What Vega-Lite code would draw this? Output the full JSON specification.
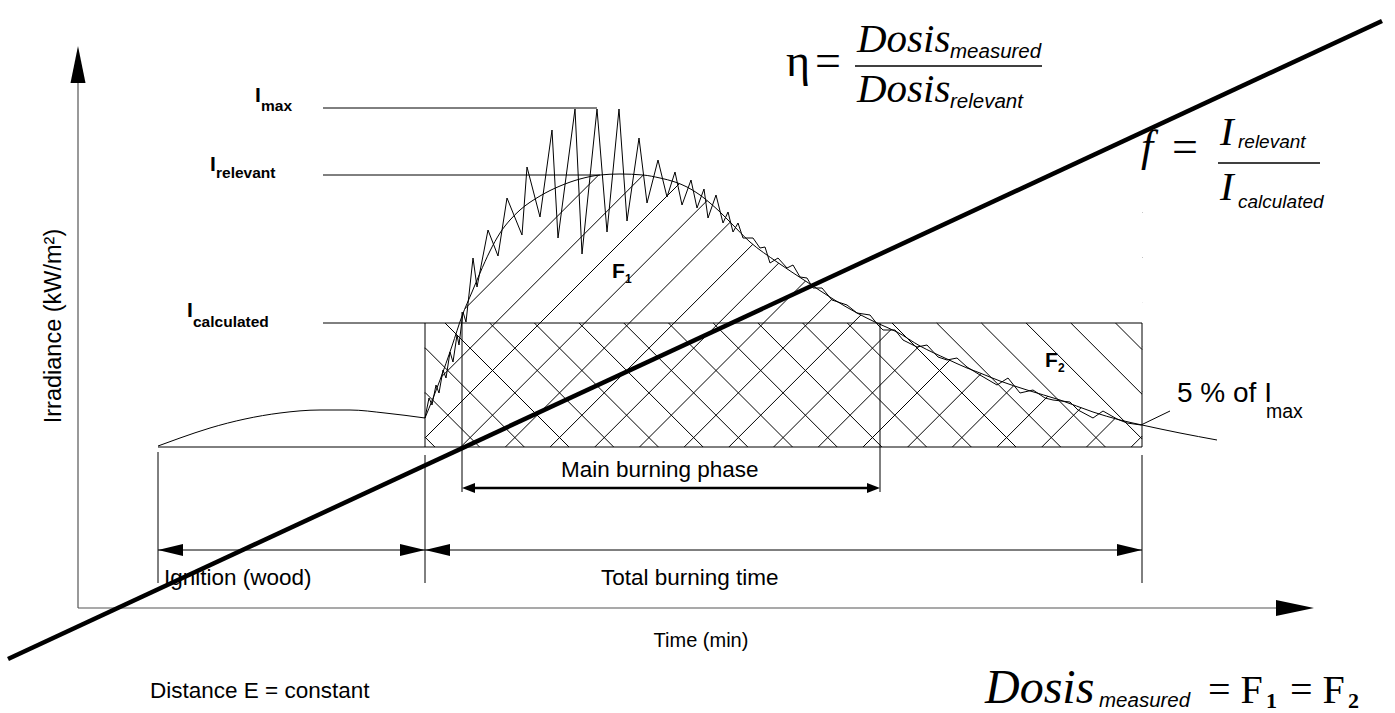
{
 "$schema": "https://vega.github.io/schema/vega-lite/v6.json",
 "width": 1395, "height": 713, "padding": 0, "autosize": {"type": "none"},
 "background": "white",
 "config": {"view": {"stroke": null}},
 "datasets": {
  "hatch_f1": [
   {"t":425,"irr":364.4,"t2":603.6,"irr2":543},
   {"t":425,"irr":319.7,"t2":648.3,"irr2":543},
   {"t":425,"irr":275,"t2":693,"irr2":543},
   {"t":460.7,"irr":266,"t2":737.7,"irr2":543},
   {"t":505.4,"irr":266,"t2":782.4,"irr2":543},
   {"t":550.1,"irr":266,"t2":827.1,"irr2":543},
   {"t":594.8,"irr":266,"t2":871.8,"irr2":543},
   {"t":639.5,"irr":266,"t2":916.5,"irr2":543},
   {"t":684.2,"irr":266,"t2":961.2,"irr2":543},
   {"t":728.9,"irr":266,"t2":1005.9,"irr2":543},
   {"t":773.6,"irr":266,"t2":1050.6,"irr2":543},
   {"t":818.3,"irr":266,"t2":1095.3,"irr2":543},
   {"t":863,"irr":266,"t2":1140,"irr2":543},
   {"t":907.7,"irr":266,"t2":1142,"irr2":500.3},
   {"t":952.4,"irr":266,"t2":1142,"irr2":455.6},
   {"t":997.1,"irr":266,"t2":1142,"irr2":410.9},
   {"t":1041.8,"irr":266,"t2":1142,"irr2":366.2},
   {"t":1086.5,"irr":266,"t2":1142,"irr2":321.5},
   {"t":1131.2,"irr":266,"t2":1142,"irr2":276.8}
  ],
  "hatch_f2": [
   {"t":425,"irr":275.9,"t2":434.9,"irr2":266},
   {"t":425,"irr":320.6,"t2":479.6,"irr2":266},
   {"t":425,"irr":365.3,"t2":524.3,"irr2":266},
   {"t":445,"irr":390,"t2":569,"irr2":266},
   {"t":489.7,"irr":390,"t2":613.7,"irr2":266},
   {"t":534.4,"irr":390,"t2":658.4,"irr2":266},
   {"t":579.1,"irr":390,"t2":703.1,"irr2":266},
   {"t":623.8,"irr":390,"t2":747.8,"irr2":266},
   {"t":668.5,"irr":390,"t2":792.5,"irr2":266},
   {"t":713.2,"irr":390,"t2":837.2,"irr2":266},
   {"t":757.9,"irr":390,"t2":881.9,"irr2":266},
   {"t":802.6,"irr":390,"t2":926.6,"irr2":266},
   {"t":847.3,"irr":390,"t2":971.3,"irr2":266},
   {"t":892,"irr":390,"t2":1016,"irr2":266},
   {"t":936.7,"irr":390,"t2":1060.7,"irr2":266},
   {"t":981.4,"irr":390,"t2":1105.4,"irr2":266},
   {"t":1026.1,"irr":390,"t2":1142,"irr2":274.1},
   {"t":1070.8,"irr":390,"t2":1142,"irr2":318.8},
   {"t":1115.5,"irr":390,"t2":1142,"irr2":363.5}
  ],
  "relevant_curve": [
   {"t":425,"irr":295},{"t":440,"irr":333},{"t":452,"irr":367},{"t":462,"irr":397},
   {"t":472,"irr":421},{"t":480,"irr":440},{"t":490,"irr":462},{"t":500,"irr":480},
   {"t":510,"irr":493},{"t":520,"irr":503},{"t":540,"irr":517},{"t":560,"irr":527},
   {"t":580,"irr":534},{"t":600,"irr":538},{"t":620,"irr":539},{"t":643,"irr":538},
   {"t":660,"irr":535},{"t":675,"irr":531},{"t":687,"irr":526},{"t":700,"irr":518},
   {"t":710,"irr":510},{"t":720,"irr":501},{"t":730,"irr":491},{"t":750,"irr":471},
   {"t":777,"irr":451},{"t":807,"irr":431},{"t":833,"irr":414},{"t":857,"irr":400},
   {"t":877,"irr":390},{"t":897,"irr":381},{"t":920,"irr":367},{"t":947,"irr":354},
   {"t":967,"irr":345},{"t":980,"irr":340},{"t":1000,"irr":332},{"t":1027,"irr":323},
   {"t":1060,"irr":313},{"t":1093,"irr":301},{"t":1120,"irr":293},{"t":1142,"irr":288},
   {"t":1180,"irr":280},{"t":1217,"irr":273}
  ],
  "measured_curve": [
   {"t":425,"irr":295},{"t":429,"irr":315},{"t":432,"irr":308},{"t":436,"irr":328},
   {"t":439,"irr":320},{"t":443,"irr":343},{"t":446,"irr":335},{"t":450,"irr":361},
   {"t":453,"irr":351},{"t":457,"irr":378},{"t":459,"irr":368},{"t":463,"irr":401},
   {"t":466,"irr":391},{"t":473,"irr":455},{"t":477,"irr":426},{"t":488,"irr":483},
   {"t":498,"irr":457},{"t":507,"irr":515},{"t":522,"irr":478},{"t":527,"irr":546},
   {"t":540,"irr":496},{"t":552,"irr":583},{"t":558,"irr":475},{"t":575,"irr":604},
   {"t":582,"irr":459},{"t":597,"irr":604},{"t":607,"irr":481},{"t":619,"irr":604},
   {"t":627,"irr":492},{"t":639,"irr":575},{"t":647,"irr":510},{"t":658,"irr":553},
   {"t":667,"irr":516},{"t":675,"irr":541},{"t":682,"irr":508},{"t":691,"irr":533},
   {"t":697,"irr":505},{"t":704,"irr":524},{"t":708,"irr":495},{"t":716,"irr":518},
   {"t":723,"irr":490},{"t":728,"irr":501},{"t":733,"irr":481},{"t":738,"irr":490},
   {"t":743,"irr":475},{"t":753,"irr":475},{"t":760,"irr":465},{"t":765,"irr":466},
   {"t":770,"irr":450},{"t":778,"irr":455},{"t":787,"irr":445},{"t":793,"irr":448},
   {"t":800,"irr":436},{"t":807,"irr":435},{"t":813,"irr":425},{"t":822,"irr":425},
   {"t":832,"irr":413},{"t":847,"irr":408},{"t":857,"irr":400},{"t":870,"irr":398},
   {"t":878,"irr":388},{"t":883,"irr":383},{"t":895,"irr":383},{"t":903,"irr":373},
   {"t":917,"irr":366},{"t":927,"irr":368},{"t":938,"irr":356},{"t":947,"irr":353},
   {"t":957,"irr":355},{"t":967,"irr":346},{"t":980,"irr":338},{"t":997,"irr":328},
   {"t":1008,"irr":335},{"t":1020,"irr":320},{"t":1033,"irr":323},{"t":1045,"irr":315},
   {"t":1053,"irr":313},{"t":1070,"irr":311},{"t":1078,"irr":303},{"t":1093,"irr":295},
   {"t":1103,"irr":302},{"t":1117,"irr":294},{"t":1127,"irr":290},{"t":1141,"irr":288}
  ],
  "ignition_curve": [
   {"t":158,"irr":267},{"t":180,"irr":275},{"t":210,"irr":285},{"t":245,"irr":294},
   {"t":280,"irr":300},{"t":320,"irr":303},{"t":350,"irr":303},{"t":385,"irr":300},
   {"t":425,"irr":295}
  ],
  "lines": [
   {"kind":"thin","t":323,"irr":390,"t2":1142,"irr2":390},
   {"kind":"thin","t":425,"irr":390,"t2":425,"irr2":266},
   {"kind":"thin","t":1142,"irr":390,"t2":1142,"irr2":266},
   {"kind":"thin","t":158,"irr":266,"t2":1142,"irr2":266},
   {"kind":"thin","t":323,"irr":605,"t2":597,"irr2":605},
   {"kind":"thin","t":323,"irr":538,"t2":600,"irr2":538},
   {"kind":"thin","t":158,"irr":261,"t2":158,"irr2":130},
   {"kind":"thin","t":425,"irr":258,"t2":425,"irr2":130},
   {"kind":"thin","t":1142,"irr":258,"t2":1142,"irr2":130},
   {"kind":"thin","t":462,"irr":401,"t2":462,"irr2":221},
   {"kind":"thin","t":880,"irr":390,"t2":880,"irr2":221},
   {"kind":"thin","t":158,"irr":163,"t2":1142,"irr2":163},
   {"kind":"thin","t":1141,"irr":288,"t2":1170,"irr2":302},
   {"kind":"axis","t":78,"irr":105,"t2":78,"irr2":655},
   {"kind":"axis","t":78,"irr":105,"t2":1290,"irr2":105},
   {"kind":"main","t":468,"irr":225,"t2":874,"irr2":225},
   {"kind":"bar","t":855,"irr":647,"t2":1042,"irr2":647},
   {"kind":"bar","t":1218,"irr":550,"t2":1320,"irr2":550}
  ],
  "ratio_line": [
   {"t":8,"irr":54,"t2":1382,"irr2":692}
  ],
  "tips": [
   {"t":78,"irr":667,"dir":"up"},
   {"t":1314,"irr":105,"dir":"right_axis"},
   {"t":158,"irr":163,"dir":"left"},
   {"t":425,"irr":163,"dir":"right"},
   {"t":425,"irr":163,"dir":"left"},
   {"t":1142,"irr":163,"dir":"right"},
   {"t":462,"irr":225,"dir":"left_small"},
   {"t":880,"irr":225,"dir":"right_small"}
  ],
  "labels": [
   {"style":"body","t":150,"irr":15,"text":"Distance E = constant"},
   {"style":"body","t":164,"irr":128,"text":"Ignition (wood)"},
   {"style":"body","t":601,"irr":128,"text":"Total burning time"},
   {"style":"body","t":561,"irr":236,"text":"Main burning phase"},
   {"style":"time","t":701,"irr":66,"text":"Time (min)"},
   {"style":"ylabel","t":61,"irr":387,"text":"Irradiance (kW/m²)"},
   {"style":"Ilevel","t":255,"irr":611,"text":"I"},
   {"style":"Ilevel","t":210,"irr":542,"text":"I"},
   {"style":"Ilevel","t":187,"irr":396,"text":"I"},
   {"style":"Isub","t":261,"irr":602,"text":"max"},
   {"style":"Isub","t":216,"irr":535,"text":"relevant"},
   {"style":"Isub","t":193,"irr":386,"text":"calculated"},
   {"style":"F","t":612,"irr":435,"text":"F"},
   {"style":"F","t":1045,"irr":346,"text":"F"},
   {"style":"Fsub","t":625,"irr":430,"text":"1"},
   {"style":"Fsub","t":1058,"irr":341,"text":"2"},
   {"style":"pct","t":1177,"irr":311,"text":"5 % of I"},
   {"style":"pctsub","t":1266,"irr":295,"text":"max"},
   {"style":"dosis","t":857,"irr":661,"text":"Dosis"},
   {"style":"dosis","t":857,"irr":611,"text":"Dosis"},
   {"style":"dosis","t":1220,"irr":568,"text":"I"},
   {"style":"dosis","t":1220,"irr":513,"text":"I"},
   {"style":"fbig","t":1141,"irr":552,"text":"f"},
   {"style":"dosisBig","t":985,"irr":10,"text":"Dosis"},
   {"style":"eqbig","t":786,"irr":637,"text":"η"},
   {"style":"eqbig","t":815,"irr":637,"text":"="},
   {"style":"eqbig","t":1172,"irr":551,"text":"="},
   {"style":"eq","t":1208,"irr":10,"text":"= F"},
   {"style":"eq","t":1290,"irr":10,"text":"= F"},
   {"style":"sub","t":950,"irr":655,"text":"measured"},
   {"style":"sub","t":950,"irr":605,"text":"relevant"},
   {"style":"subsmall","t":1238,"irr":565,"text":"relevant"},
   {"style":"subsmall","t":1238,"irr":505,"text":"calculated"},
   {"style":"sub","t":1099,"irr":6,"text":"measured"},
   {"style":"num","t":1266,"irr":5,"text":"1"},
   {"style":"num","t":1348,"irr":5,"text":"2"}
  ]
 },
 "encoding": {
  "x": {"field":"t","type":"quantitative","scale":{"domain":[0,1395],"nice":false,"zero":false},"axis":null},
  "y": {"field":"irr","type":"quantitative","scale":{"domain":[0,713],"nice":false,"zero":false},"axis":null}
 },
 "layer": [
  {"data":{"name":"hatch_f1"},"mark":{"type":"rule","stroke":"black","strokeWidth":1},
   "encoding":{"x2":{"field":"t2"},"y2":{"field":"irr2"}}},
  {"data":{"name":"relevant_curve"},"transform":[{"filter":"datum.t <= 1142"}],
   "mark":{"type":"area","interpolate":"monotone","fill":"white","stroke":null,"opacity":1},
   "encoding":{"y2":{"datum":546}}},
  {"data":{"name":"hatch_f2"},"mark":{"type":"rule","stroke":"black","strokeWidth":1},
   "encoding":{"x2":{"field":"t2"},"y2":{"field":"irr2"}}},
  {"data":{"name":"lines"},"transform":[{"filter":"datum.kind == 'thin'"}],
   "mark":{"type":"rule","stroke":"black","strokeWidth":1},
   "encoding":{"x2":{"field":"t2"},"y2":{"field":"irr2"}}},
  {"data":{"name":"lines"},"transform":[{"filter":"datum.kind == 'axis'"}],
   "mark":{"type":"rule","stroke":"#555555","strokeWidth":1.2},
   "encoding":{"x2":{"field":"t2"},"y2":{"field":"irr2"}}},
  {"data":{"name":"lines"},"transform":[{"filter":"datum.kind == 'main'"}],
   "mark":{"type":"rule","stroke":"black","strokeWidth":2.5},
   "encoding":{"x2":{"field":"t2"},"y2":{"field":"irr2"}}},
  {"data":{"name":"lines"},"transform":[{"filter":"datum.kind == 'bar'"}],
   "mark":{"type":"rule","stroke":"black","strokeWidth":1.5},
   "encoding":{"x2":{"field":"t2"},"y2":{"field":"irr2"}}},
  {"data":{"name":"ignition_curve"},"mark":{"type":"line","interpolate":"monotone","stroke":"black","strokeWidth":1},"encoding":{}},
  {"data":{"name":"relevant_curve"},"mark":{"type":"line","interpolate":"monotone","stroke":"black","strokeWidth":1},"encoding":{}},
  {"data":{"name":"measured_curve"},"mark":{"type":"line","interpolate":"linear","stroke":"black","strokeWidth":1},"encoding":{}},
  {"data":{"name":"ratio_line"},"mark":{"type":"rule","stroke":"black","strokeWidth":4.5},
   "encoding":{"x2":{"field":"t2"},"y2":{"field":"irr2"}}},
  {"data":{"name":"tips"},"mark":{"type":"point","filled":true,"fill":"black","stroke":null,"opacity":1},
   "encoding":{
    "size":{"value":400},
    "shape":{"field":"dir","type":"nominal","legend":null,
     "scale":{"domain":["up","right_axis","left","right","left_small","right_small"],
      "range":["M0,0L-0.75,3.7L0.75,3.7Z","M0,0L-3.8,-0.8L-3.8,0.8Z","M0,0L2.5,-0.6L2.5,0.6Z","M0,0L-2.5,-0.6L-2.5,0.6Z","M0,0L1.3,-0.5L1.3,0.5Z","M0,0L-1.3,-0.5L-1.3,0.5Z"]}}}},
  {"data":{"name":"labels"},"transform":[{"filter":"datum.style == 'body'"}],
   "mark":{"type":"text","align":"left","baseline":"alphabetic","font":"Liberation Sans","fontSize":22.5,"fill":"black"},
   "encoding":{"text":{"field":"text"}}},
  {"data":{"name":"labels"},"transform":[{"filter":"datum.style == 'time'"}],
   "mark":{"type":"text","align":"center","baseline":"alphabetic","font":"Liberation Sans","fontSize":20,"fill":"black"},
   "encoding":{"text":{"field":"text"}}},
  {"data":{"name":"labels"},"transform":[{"filter":"datum.style == 'ylabel'"}],
   "mark":{"type":"text","align":"center","baseline":"alphabetic","angle":270,"font":"Liberation Sans","fontSize":23.5,"fill":"black"},
   "encoding":{"text":{"field":"text"}}},
  {"data":{"name":"labels"},"transform":[{"filter":"datum.style == 'Ilevel'"}],
   "mark":{"type":"text","align":"left","baseline":"alphabetic","font":"Liberation Sans","fontWeight":"bold","fontSize":21,"fill":"black"},
   "encoding":{"text":{"field":"text"}}},
  {"data":{"name":"labels"},"transform":[{"filter":"datum.style == 'Isub'"}],
   "mark":{"type":"text","align":"left","baseline":"alphabetic","font":"Liberation Sans","fontWeight":"bold","fontSize":15.5,"fill":"black"},
   "encoding":{"text":{"field":"text"}}},
  {"data":{"name":"labels"},"transform":[{"filter":"datum.style == 'F'"}],
   "mark":{"type":"text","align":"left","baseline":"alphabetic","font":"Liberation Sans","fontWeight":"bold","fontSize":21,"fill":"black"},
   "encoding":{"text":{"field":"text"}}},
  {"data":{"name":"labels"},"transform":[{"filter":"datum.style == 'Fsub'"}],
   "mark":{"type":"text","align":"left","baseline":"alphabetic","font":"Liberation Sans","fontWeight":"bold","fontSize":12,"fill":"black"},
   "encoding":{"text":{"field":"text"}}},
  {"data":{"name":"labels"},"transform":[{"filter":"datum.style == 'pct'"}],
   "mark":{"type":"text","align":"left","baseline":"alphabetic","font":"Liberation Sans","fontSize":28,"fill":"black"},
   "encoding":{"text":{"field":"text"}}},
  {"data":{"name":"labels"},"transform":[{"filter":"datum.style == 'pctsub'"}],
   "mark":{"type":"text","align":"left","baseline":"alphabetic","font":"Liberation Sans","fontSize":19.5,"fill":"black"},
   "encoding":{"text":{"field":"text"}}},
  {"data":{"name":"labels"},"transform":[{"filter":"datum.style == 'dosis'"}],
   "mark":{"type":"text","align":"left","baseline":"alphabetic","font":"Liberation Serif","fontStyle":"italic","fontSize":41,"fill":"black"},
   "encoding":{"text":{"field":"text"}}},
  {"data":{"name":"labels"},"transform":[{"filter":"datum.style == 'fbig'"}],
   "mark":{"type":"text","align":"left","baseline":"alphabetic","font":"Liberation Serif","fontStyle":"italic","fontSize":44,"fill":"black"},
   "encoding":{"text":{"field":"text"}}},
  {"data":{"name":"labels"},"transform":[{"filter":"datum.style == 'dosisBig'"}],
   "mark":{"type":"text","align":"left","baseline":"alphabetic","font":"Liberation Serif","fontStyle":"italic","fontSize":48,"fill":"black"},
   "encoding":{"text":{"field":"text"}}},
  {"data":{"name":"labels"},"transform":[{"filter":"datum.style == 'eqbig'"}],
   "mark":{"type":"text","align":"left","baseline":"alphabetic","font":"Liberation Serif","fontSize":46,"fill":"black"},
   "encoding":{"text":{"field":"text"}}},
  {"data":{"name":"labels"},"transform":[{"filter":"datum.style == 'eq'"}],
   "mark":{"type":"text","align":"left","baseline":"alphabetic","font":"Liberation Serif","fontSize":40,"fill":"black"},
   "encoding":{"text":{"field":"text"}}},
  {"data":{"name":"labels"},"transform":[{"filter":"datum.style == 'sub'"}],
   "mark":{"type":"text","align":"left","baseline":"alphabetic","font":"Liberation Sans","fontStyle":"italic","fontSize":20.5,"fill":"black"},
   "encoding":{"text":{"field":"text"}}},
  {"data":{"name":"labels"},"transform":[{"filter":"datum.style == 'subsmall'"}],
   "mark":{"type":"text","align":"left","baseline":"alphabetic","font":"Liberation Sans","fontStyle":"italic","fontSize":19,"fill":"black"},
   "encoding":{"text":{"field":"text"}}},
  {"data":{"name":"labels"},"transform":[{"filter":"datum.style == 'num'"}],
   "mark":{"type":"text","align":"left","baseline":"alphabetic","font":"Liberation Serif","fontWeight":"bold","fontSize":22,"fill":"black"},
   "encoding":{"text":{"field":"text"}}}
 ]
}
